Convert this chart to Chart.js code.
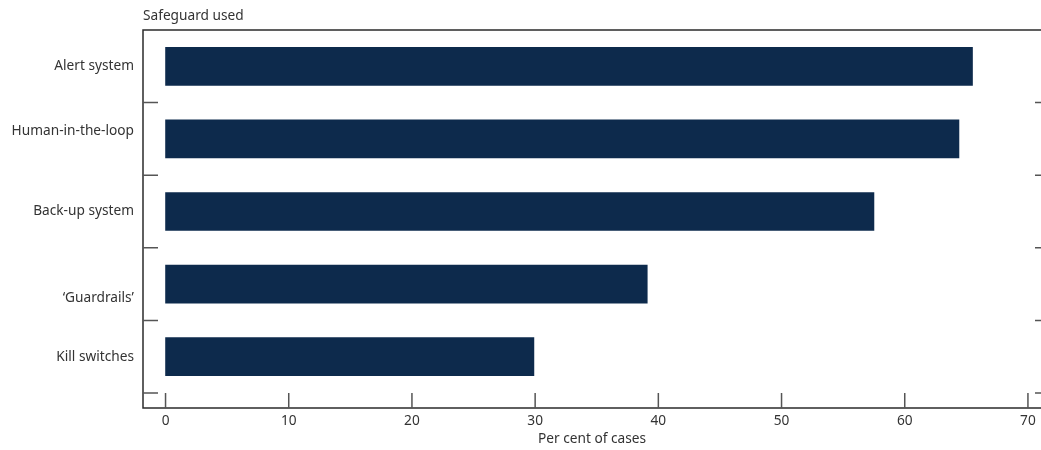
<!DOCTYPE html>
<html>
<head>
<meta charset="utf-8">
<script src="https://cdn.jsdelivr.net/npm/chart.js@4/dist/chart.umd.min.js"></script>
<style>
html,body{margin:0;padding:0;background:#fff;}
#wrap{width:1041px;height:450px;}
</style>
</head>
<body>
<div id="wrap"><canvas id="mcnv" width="1041" height="450"></canvas></div>
<script>
// data
var safeguards = ["Alert system", "Human-in-the-loop", "Back-up system", "\u2018Guardrails\u2019", "Kill switches"];
var perCent = [65.5, 64.4, 57.5, 39.1, 29.9];
var xTicks = [0, 10, 20, 30, 40, 50, 60, 70];
var yTitle = "Safeguard used";
var xTitle = "Per cent of cases";

var fnt = "'Noto Sans', 'Open Sans', sans-serif";
var fsz = 13.7;
var txtCol = "#333333";
// the source sets two of the category labels a little off the bar centre
var lblShift = [0, -8, 0, 14, 0];

// frame, inward tick marks, category labels and the top-left caption
var frame = {
	id: 'frame',
	afterDraw: function(chart){
		var c = chart.ctx;
		var a = chart.chartArea;
		var xs = chart.scales.x;
		var ys = chart.scales.y;
		var axisY = a.bottom + 15;
		var band = ys.getPixelForValue(1) - ys.getPixelForValue(0);
		c.save();
		c.lineWidth = 1.5;
		c.strokeStyle = "#2b2b2b";
		c.beginPath();
		c.moveTo(a.right, a.top); c.lineTo(a.left, a.top);
		c.lineTo(a.left, axisY); c.lineTo(a.right, axisY);
		c.stroke();

		c.strokeStyle = "#555555";
		c.beginPath();
		for(var i = 0; i < safeguards.length; i++){
			var yy = ys.getPixelForValue(i) + band / 2;
			c.moveTo(a.left, yy); c.lineTo(a.left + 15, yy);
			c.moveTo(a.right - 6, yy); c.lineTo(a.right, yy);
		}
		for(var k = 0; k < xTicks.length; k++){
			var xx = xs.getPixelForValue(xTicks[k]);
			c.moveTo(xx, axisY); c.lineTo(xx, axisY - 15);
		}
		c.stroke();

		c.fillStyle = txtCol;
		c.font = fsz + "px " + fnt;
		c.textBaseline = "middle";
		c.textAlign = "right";
		for(var j = 0; j < safeguards.length; j++){
			c.fillText(safeguards[j], a.left - 9, ys.getPixelForValue(j) + lblShift[j]);
		}
		c.textAlign = "left";
		c.fillText(yTitle, a.left, 16);
		c.restore();
	}
};

var chrtd = {
	labels: safeguards,
	datasets: [{
		data: perCent,
		backgroundColor: "#0d2a4c",
		borderWidth: 0,
		barThickness: 38
	}]
};

var ctx = document.getElementById("mcnv");
var hbar = new Chart(ctx, {
	type: 'bar',
	data: chrtd,
	plugins: [frame],
	options: {
		indexAxis: 'y',
		responsive: false,
		animation: false,
		layout: { padding: { top: 30, left: 0, right: 0, bottom: 0 } },
		plugins: {
			legend: { display: false },
			tooltip: { enabled: false }
		},
		scales: {
			x: {
				type: 'linear',
				min: -1.83,
				max: 71.06,
				grid: { display: false, drawTicks: false },
				border: { display: false },
				afterBuildTicks: function(s){
					s.ticks = xTicks.map(function(v){ return { value: v }; });
				},
				afterFit: function(s){
					s.height = 57;
					s.paddingLeft = 0;
					s.paddingRight = 0;
				},
				ticks: {
					padding: 20,
					color: txtCol,
					font: { family: fnt, size: fsz },
					maxRotation: 0
				},
				title: {
					display: true,
					text: xTitle,
					color: txtCol,
					font: { family: fnt, size: fsz },
					padding: { top: 0, bottom: 3 }
				}
			},
			y: {
				grid: { display: false, drawTicks: false },
				border: { display: false },
				afterFit: function(s){
					s.width = 143;
					s.paddingTop = 0;
					s.paddingBottom = 0;
				},
				ticks: { display: false }
			}
		}
	}
});
</script>
</body>
</html>
